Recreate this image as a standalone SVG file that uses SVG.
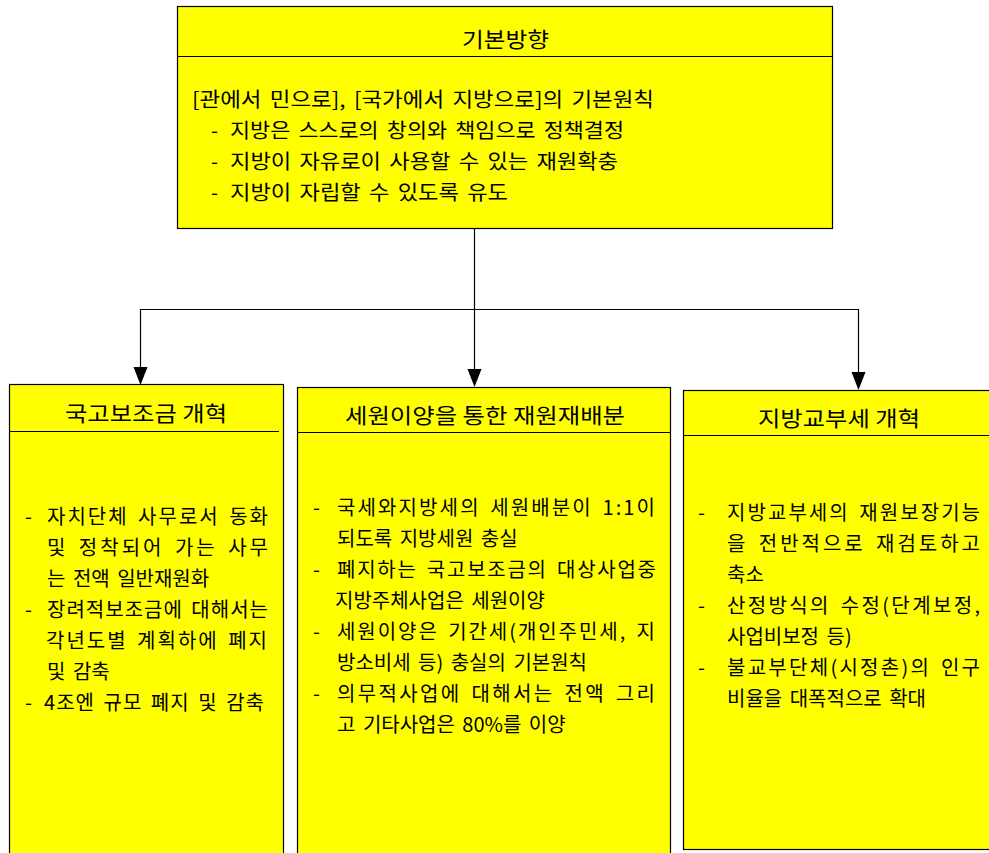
<svg xmlns="http://www.w3.org/2000/svg" width="989" height="853" viewBox="0 0 989 853">
<style>
.box{fill:#FFFF00;stroke:#000;stroke-width:1.2}
.div{stroke:#000;stroke-width:1.2}
.t{font-family:"Noto Sans CJK KR","Noto Sans",sans-serif;font-size:20px;fill:#000;word-spacing:3px}
.h{font-family:"Noto Sans CJK KR","Noto Sans",sans-serif;font-size:21px;fill:#000}
.c{stroke:#000;stroke-width:1.2;fill:none}
.ah{fill:#000}
</style>
<rect width="989" height="853" fill="#fff"/>
<g id="connectors">
<line class="c" x1="474.5" y1="229" x2="474.5" y2="372"/>
<line class="c" x1="140" y1="309.5" x2="859" y2="309.5"/>
<line class="c" x1="140.5" y1="309" x2="140.5" y2="370"/>
<line class="c" x1="858.5" y1="309" x2="858.5" y2="375"/>
<path class="ah" d="M133.5,367 L147.5,367 L140.5,385 Z"/>
<path class="ah" d="M467.5,369 L481.5,369 L474.5,387 Z"/>
<path class="ah" d="M851.5,372 L865.5,372 L858.5,390 Z"/>
</g>
<g id="top">
<rect class="box" x="177.5" y="6.5" width="655" height="222"/>
<line class="div" x1="177.5" y1="56.5" x2="832.5" y2="56.5"/>
<text class="h" x="462" y="47" textLength="87" lengthAdjust="spacingAndGlyphs">기본방향</text>
<text class="t" x="192" y="107" textLength="462" lengthAdjust="spacingAndGlyphs">[관에서 민으로], [국가에서 지방으로]의 기본원칙</text>
<text class="t" x="211" y="138">-</text>
<text class="t" x="230" y="138" textLength="394" lengthAdjust="spacingAndGlyphs">지방은 스스로의 창의와 책임으로 정책결정</text>
<text class="t" x="211" y="169">-</text>
<text class="t" x="230" y="169" textLength="388" lengthAdjust="spacingAndGlyphs">지방이 자유로이 사용할 수 있는 재원확충</text>
<text class="t" x="211" y="200">-</text>
<text class="t" x="230" y="200" textLength="278" lengthAdjust="spacingAndGlyphs">지방이 자립할 수 있도록 유도</text>
</g>
<g id="left">
<rect class="box" x="9.5" y="384.5" width="274" height="480"/>
<line class="div" x1="9.5" y1="431.5" x2="279" y2="431.5"/>
<text class="h" x="65" y="421" textLength="162" lengthAdjust="spacingAndGlyphs">국고보조금 개혁</text>
<text class="t" x="25" y="524">-</text>
<text class="t" x="47" y="524" textLength="221" lengthAdjust="spacing">자치단체 사무로서 동화</text>
<text class="t" x="47" y="555" textLength="221" lengthAdjust="spacing">및 정착되어 가는 사무</text>
<text class="t" x="47" y="586">는 전액 일반재원화</text>
<text class="t" x="25" y="617">-</text>
<text class="t" x="47" y="617" textLength="221" lengthAdjust="spacing">장려적보조금에 대해서는</text>
<text class="t" x="46" y="648" textLength="221" lengthAdjust="spacing">각년도별 계획하에 폐지</text>
<text class="t" x="47" y="679">및 감축</text>
<text class="t" x="25" y="710">-</text>
<text class="t" x="44" y="710" textLength="220" lengthAdjust="spacing">4조엔 규모 폐지 및 감축</text>
</g>
<g id="center">
<rect class="box" x="297.5" y="387.5" width="373" height="480"/>
<line class="div" x1="297.5" y1="432.5" x2="670.5" y2="432.5"/>
<text class="h" x="345" y="423" textLength="280" lengthAdjust="spacingAndGlyphs">세원이양을 통한 재원재배분</text>
<text class="t" x="313" y="515">-</text>
<text class="t" x="337" y="515" textLength="318" lengthAdjust="spacing">국세와지방세의 세원배분이 1:1이</text>
<text class="t" x="337" y="546">되도록 지방세원 충실</text>
<text class="t" x="313" y="577">-</text>
<text class="t" x="337" y="577" textLength="319" lengthAdjust="spacing">폐지하는 국고보조금의 대상사업중</text>
<text class="t" x="335" y="608">지방주체사업은 세원이양</text>
<text class="t" x="313" y="639">-</text>
<text class="t" x="337" y="639" textLength="318" lengthAdjust="spacing">세원이양은 기간세(개인주민세, 지</text>
<text class="t" x="337" y="670">방소비세 등) 충실의 기본원칙</text>
<text class="t" x="313" y="701">-</text>
<text class="t" x="337" y="701" textLength="318" lengthAdjust="spacing">의무적사업에 대해서는 전액 그리</text>
<text class="t" x="337" y="732">고 기타사업은 80%를 이양</text>
</g>
<g id="right">
<rect class="box" x="683.5" y="390.5" width="320" height="459"/>
<line class="div" x1="683.5" y1="435.5" x2="989" y2="435.5"/>
<text class="h" x="758" y="426" textLength="162" lengthAdjust="spacingAndGlyphs">지방교부세 개혁</text>
<text class="t" x="698" y="520">-</text>
<text class="t" x="727" y="520" textLength="253" lengthAdjust="spacing">지방교부세의 재원보장기능</text>
<text class="t" x="727" y="551" textLength="253" lengthAdjust="spacing">을 전반적으로 재검토하고</text>
<text class="t" x="727" y="582">축소</text>
<text class="t" x="698" y="613">-</text>
<text class="t" x="727" y="613" textLength="253" lengthAdjust="spacing">산정방식의 수정(단계보정,</text>
<text class="t" x="727" y="644">사업비보정 등)</text>
<text class="t" x="698" y="675">-</text>
<text class="t" x="727" y="675" textLength="253" lengthAdjust="spacing">불교부단체(시정촌)의 인구</text>
<text class="t" x="727" y="706">비율을 대폭적으로 확대</text>
</g>
</svg>
